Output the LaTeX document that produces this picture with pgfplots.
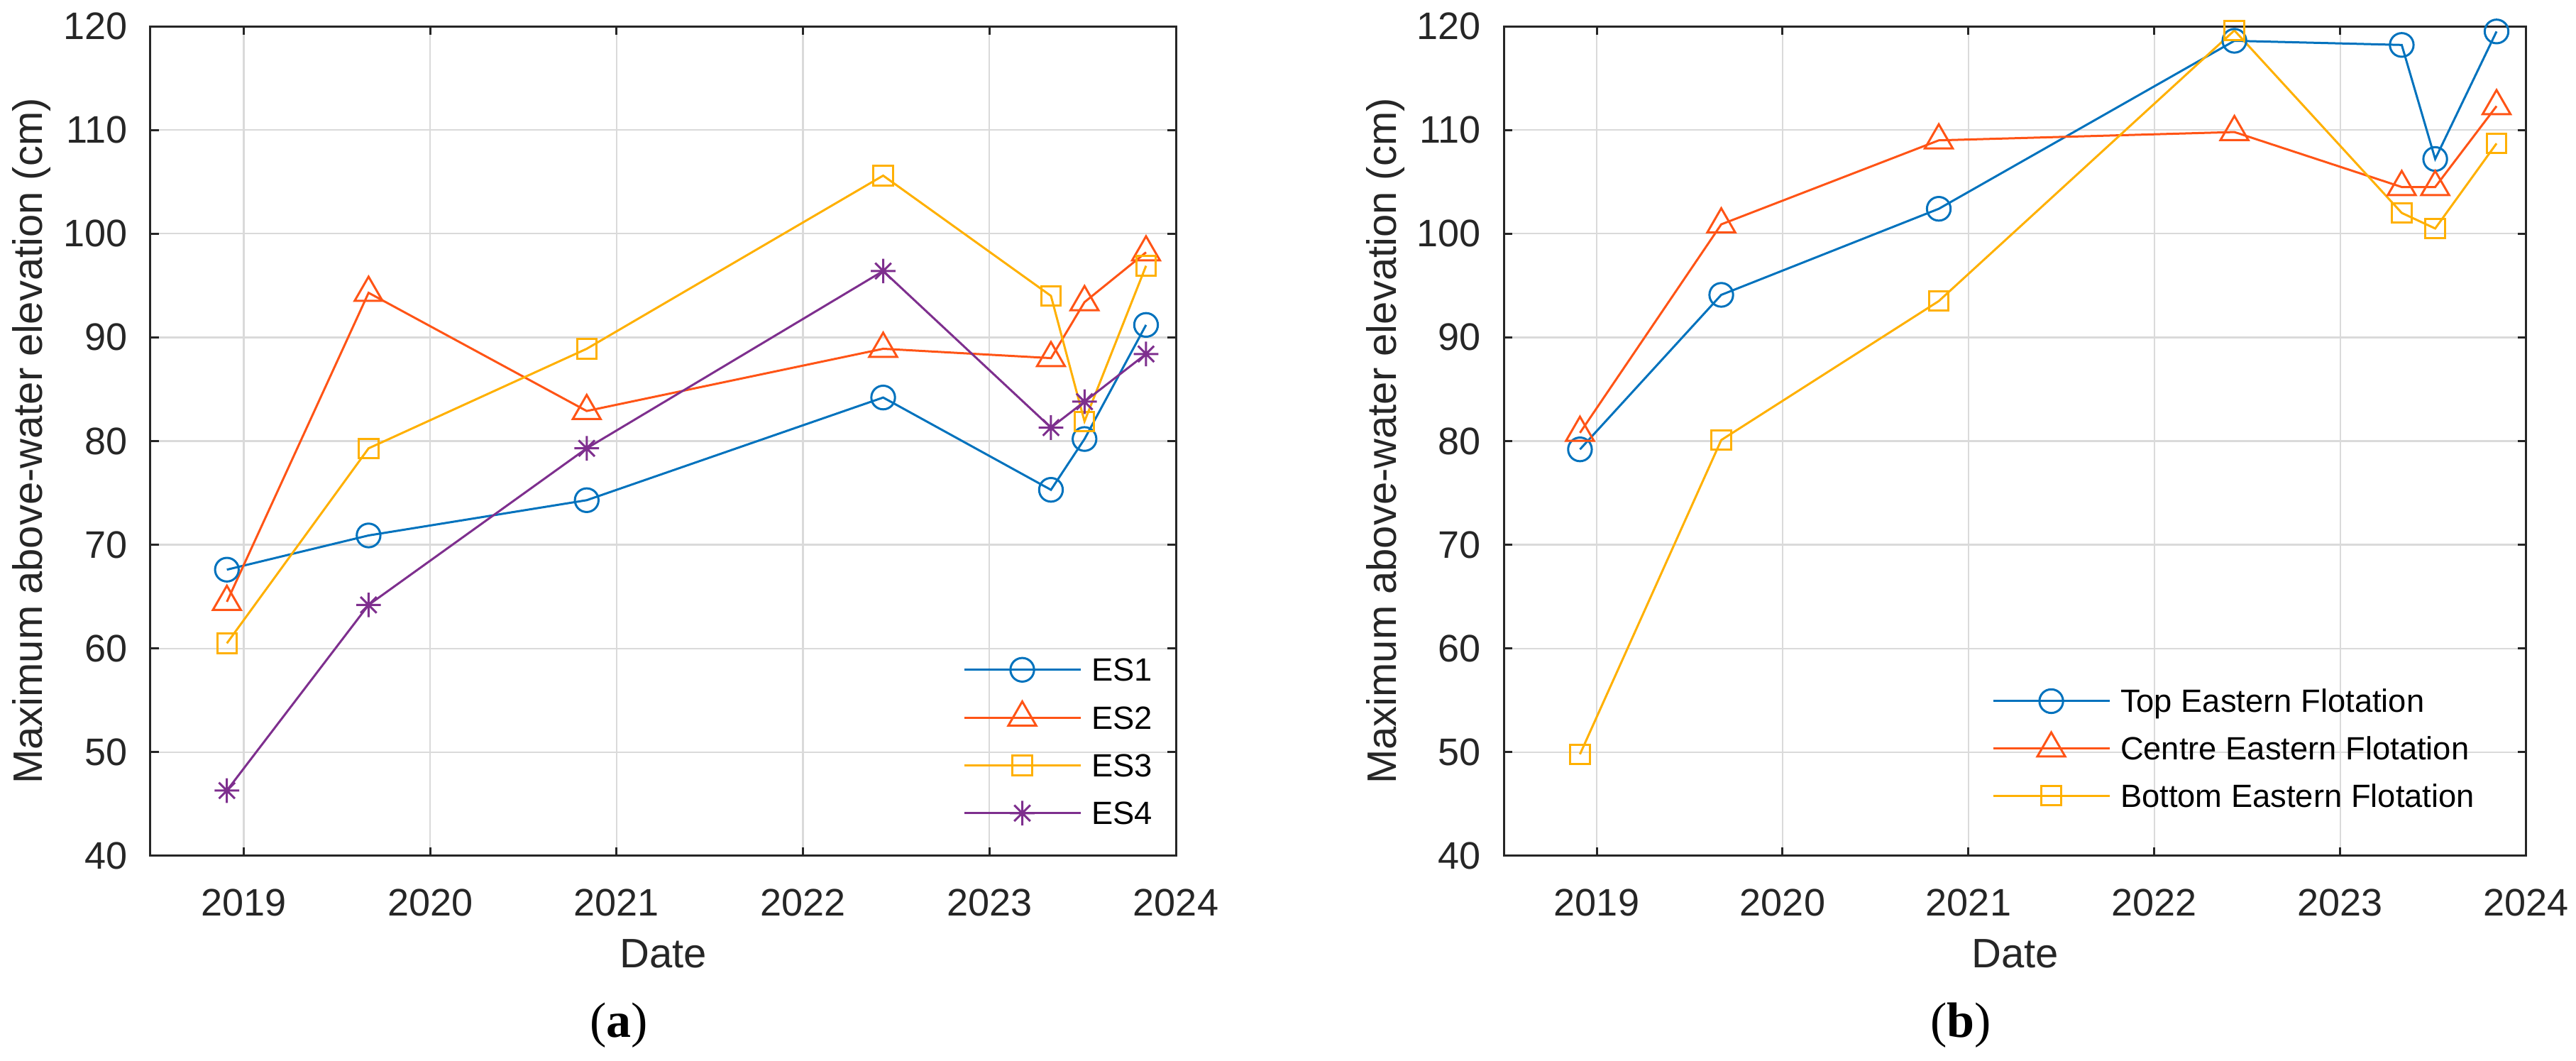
\documentclass[border=0pt]{standalone}
\usepackage{fontspec}
\setmainfont{Liberation Sans}
\newfontfamily\capfont{Liberation Serif}
\usepackage{pgfplots}
\pgfplotsset{compat=1.18}

\definecolor{axgray}{RGB}{38,38,38}
\definecolor{gridgray}{RGB}{218,218,218}
\definecolor{cblue}{RGB}{0,114,189}
\definecolor{cred}{RGB}{255,84,22}
\definecolor{cyel}{RGB}{255,176,0}
\definecolor{cpur}{RGB}{126,47,142}

% MATLAB-like '*' marker: plus and cross
\pgfdeclareplotmark{mstar}{%
  \pgfpathmoveto{\pgfqpoint{0pt}{\pgfplotmarksize}}%
  \pgfpathlineto{\pgfqpoint{0pt}{-\pgfplotmarksize}}%
  \pgfpathmoveto{\pgfqpoint{\pgfplotmarksize}{0pt}}%
  \pgfpathlineto{\pgfqpoint{-\pgfplotmarksize}{0pt}}%
  \pgfpathmoveto{\pgfqpoint{0.65\pgfplotmarksize}{0.65\pgfplotmarksize}}%
  \pgfpathlineto{\pgfqpoint{-0.65\pgfplotmarksize}{-0.65\pgfplotmarksize}}%
  \pgfpathmoveto{\pgfqpoint{-0.65\pgfplotmarksize}{0.65\pgfplotmarksize}}%
  \pgfpathlineto{\pgfqpoint{0.65\pgfplotmarksize}{-0.65\pgfplotmarksize}}%
  \pgfusepathqstroke}

\pgfplotsset{
  elev/.style={
    scale only axis, width=216.75pt, height=175.35pt,
    xmin=2018.5, xmax=2024, ymin=40, ymax=120,
    xtick={2019,2020,2021,2022,2023,2024},
    xticklabels={2019,2020,2021,2022,2023,2024},
    ytick={40,50,...,120},
    scaled ticks=false,
    /pgf/number format/assume math mode=true,
    grid=major, major grid style={gridgray, line width=0.35pt},
    axis line style={axgray, line width=0.45pt},
    tick style={axgray, line width=0.45pt},
    tick align=inside, major tick length=1.8pt,
    ticklabel style={font=\fontsize{8.1}{9}\selectfont, text=axgray},
    xticklabel style={yshift=-3.45pt},
    yticklabel style={xshift=-1.35pt},
    label style={font=\fontsize{8.7}{10}\selectfont, text=axgray},
    xlabel={Date},
    ylabel={Maximum above-water elevation (cm)},
    xlabel style={at={(axis description cs:0.5,-0.1176)}, anchor=center},
    ylabel style={at={(axis description cs:-0.1156,0.5)}, anchor=center},
    legend cell align=left,
    legend image code/.code={\draw[mark repeat=2,mark phase=2]
      plot coordinates {(0pt,0pt) (12.3pt,0pt) (24.6pt,0pt)};},
    legend style={draw=none, fill=none, anchor=north west,
      inner xsep=0pt, inner ysep=0pt, outer sep=0pt,
      font=\fontsize{6.8}{8}\selectfont, text=black,
      nodes={inner sep=0pt, text height=5.8pt, text depth=1pt},
      /tikz/every odd column/.append style={column sep=2.1pt}},
  },
  s1/.style={cblue, line width=0.45pt, mark=o, mark size=2.5pt},
  s2/.style={cred, line width=0.45pt, mark=triangle, mark size=3.4pt},
  s3/.style={cyel, line width=0.45pt, mark=square, mark size=2.05pt},
  s4/.style={cpur, line width=0.45pt, mark=mstar, mark size=2.6pt},
}

\begin{document}
\begin{tikzpicture}
\useasboundingbox (0pt,0pt) rectangle (544.5pt,224.25pt);

\begin{axis}[elev, at={(31.8pt,43.35pt)}, anchor=south west,
  legend style={at={(axis description cs:0.7924,0.2437)}, row sep=3.3pt}]
\addplot[s1] coordinates {(2018.91,67.6) (2019.67,70.9) (2020.84,74.3) (2022.43,84.2) (2023.33,75.3) (2023.51,80.2) (2023.84,91.2)};
\addlegendentry{ES1}
\addplot[s2] coordinates {(2018.91,64.5) (2019.67,94.3) (2020.84,82.9) (2022.43,88.9) (2023.33,88.0) (2023.51,93.4) (2023.84,98.2)};
\addlegendentry{ES2}
\addplot[s3] coordinates {(2018.91,60.5) (2019.67,79.3) (2020.84,88.9) (2022.43,105.6) (2023.33,94.0) (2023.51,81.9) (2023.84,96.9)};
\addlegendentry{ES3}
\addplot[s4] coordinates {(2018.91,46.3) (2019.67,64.2) (2020.84,79.3) (2022.43,96.4) (2023.33,81.3) (2023.51,83.8) (2023.84,88.4)};
\addlegendentry{ES4}
\end{axis}

\begin{axis}[elev, width=216.15pt, at={(317.85pt,43.35pt)}, anchor=south west,
  legend style={at={(axis description cs:0.4775,0.2059)}, row sep=3.2pt}]
\addplot[s1] coordinates {(2018.91,79.2) (2019.67,94.1) (2020.84,102.4) (2022.43,118.6) (2023.33,118.2) (2023.51,107.2) (2023.84,119.5)};
\addlegendentry{Top Eastern Flotation}
\addplot[s2] coordinates {(2018.91,80.8) (2019.67,100.9) (2020.84,109.0) (2022.43,109.8) (2023.33,104.5) (2023.51,104.5) (2023.84,112.3)};
\addlegendentry{Centre Eastern Flotation}
\addplot[s3] coordinates {(2018.91,49.8) (2019.67,80.1) (2020.84,93.5) (2022.43,119.6) (2023.33,102.0) (2023.51,100.5) (2023.84,108.7)};
\addlegendentry{Bottom Eastern Flotation}
\end{axis}

\node[font=\capfont\fontsize{10.5}{12}\selectfont] at (130.8pt,7.5pt) {(\textbf{a})};
\node[font=\capfont\fontsize{10.5}{12}\selectfont] at (414.45pt,7.5pt) {(\textbf{b})};
\end{tikzpicture}
\end{document}
